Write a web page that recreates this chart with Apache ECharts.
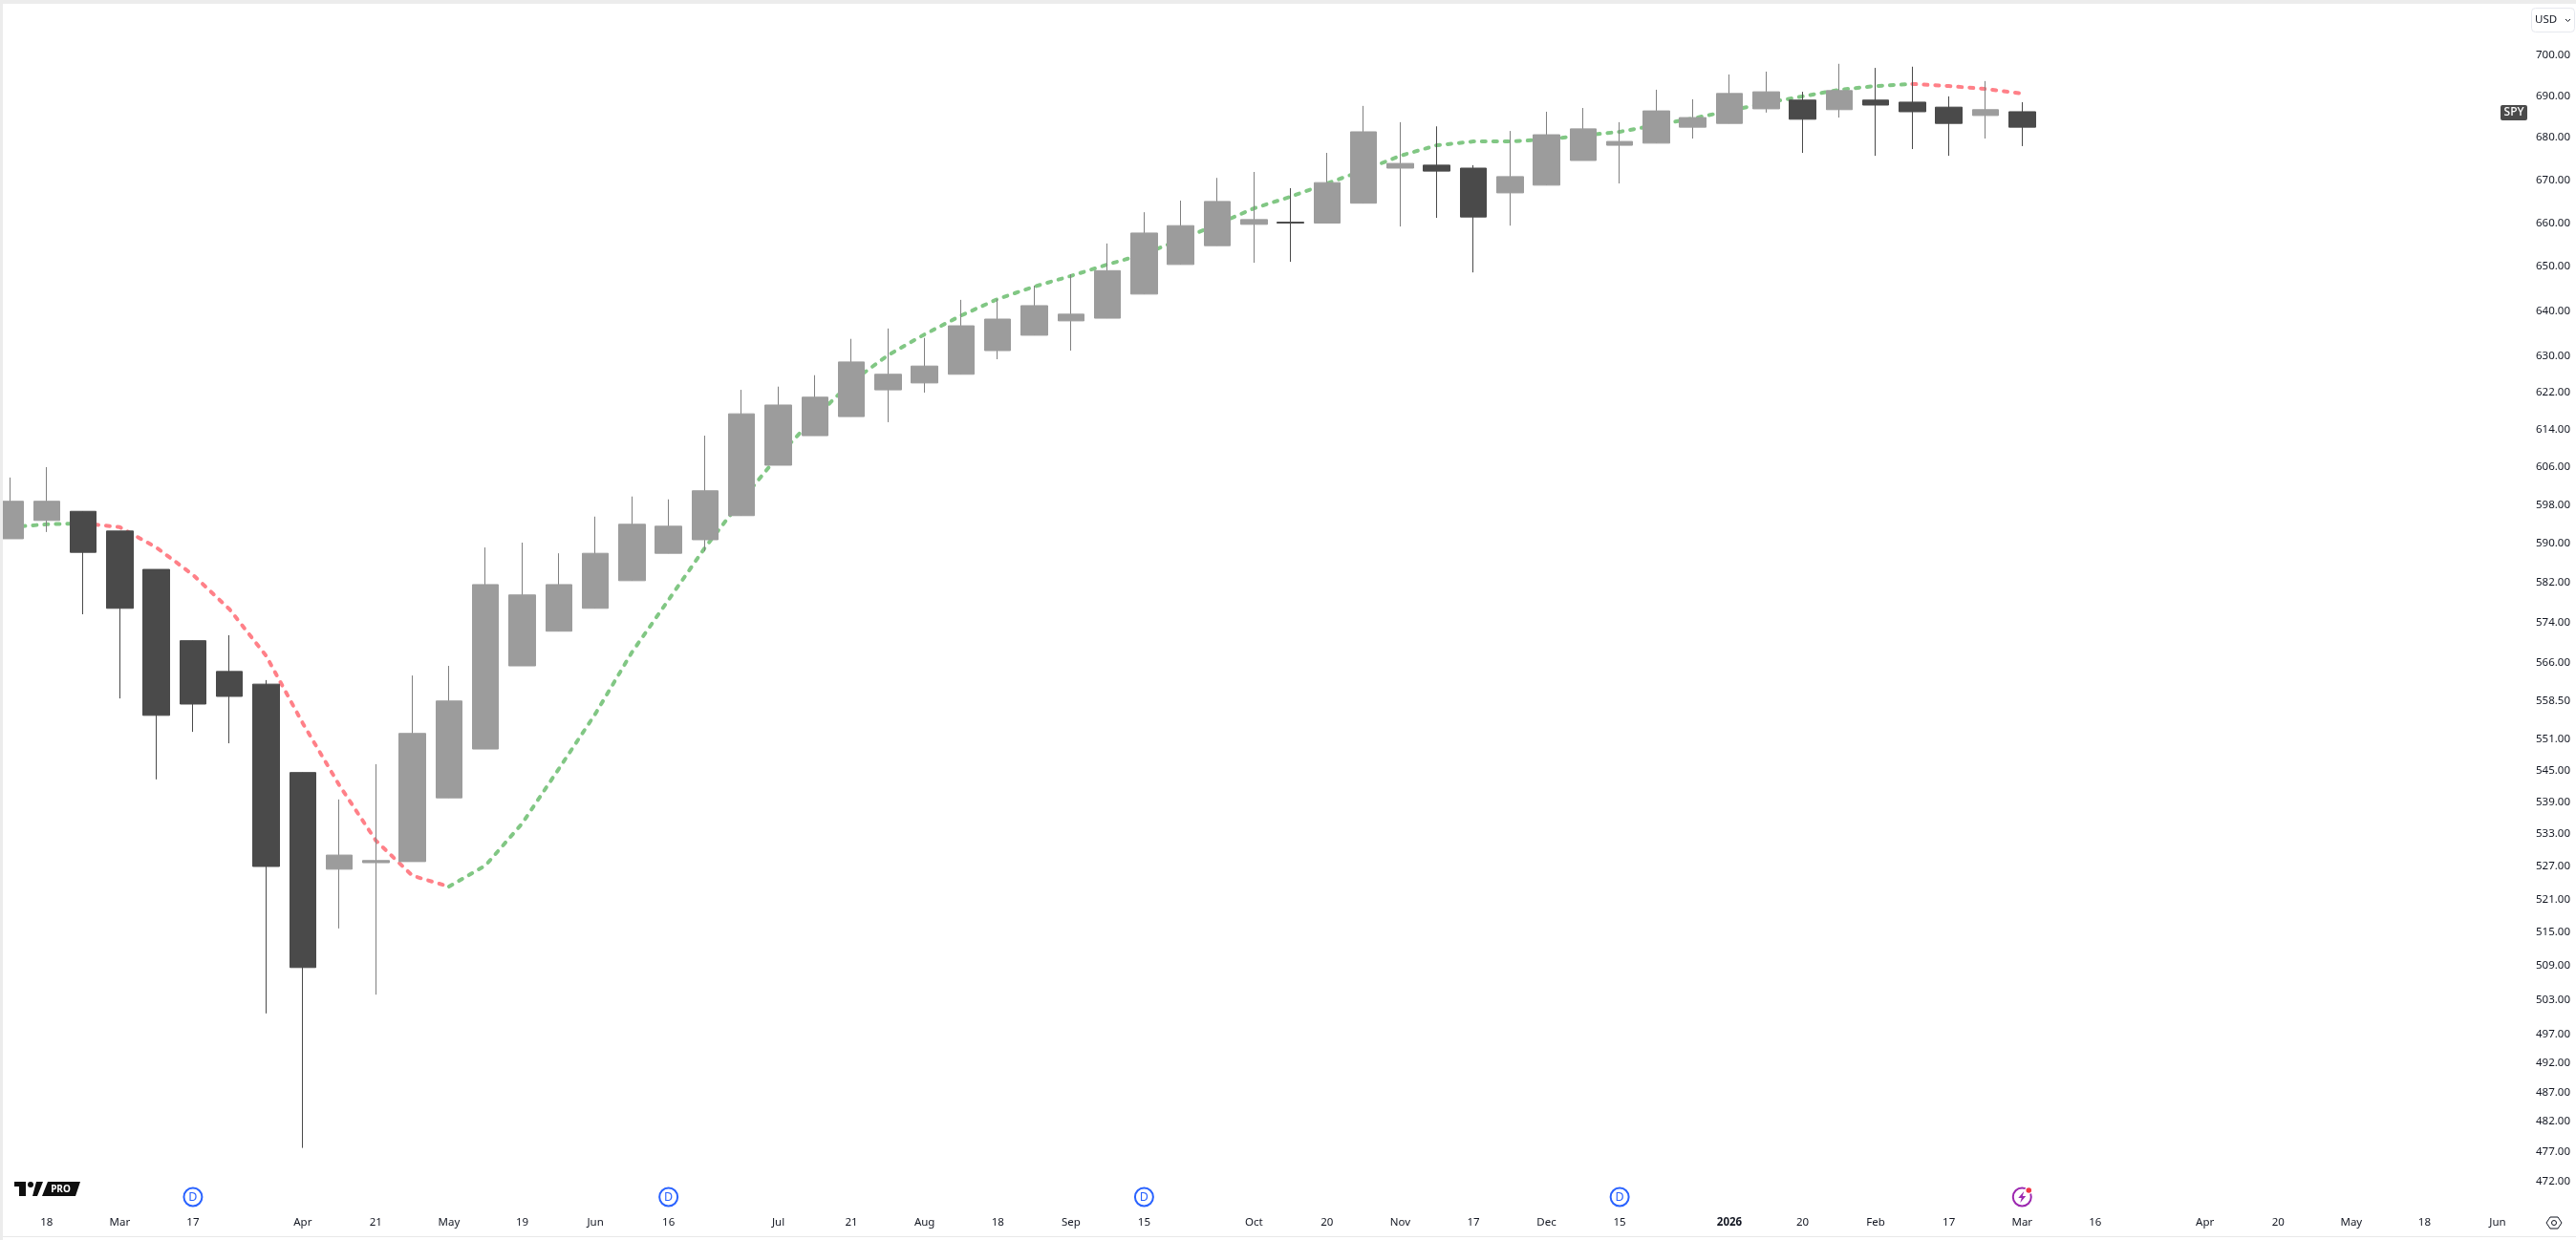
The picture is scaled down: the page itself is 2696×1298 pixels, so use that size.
<!DOCTYPE html>
<html>
<head>
<meta charset="utf-8">
<style>html,body{margin:0;padding:0;background:#fff}#c{width:2696px;height:1298px}</style>
<script src="https://cdn.jsdelivr.net/npm/echarts@6/dist/echarts.min.js"></script>
</head>
<body>
<div id="c"></div>
<script>
const weeks = ['2025-02-10','2025-02-18','2025-02-24','2025-03-03','2025-03-10','2025-03-17','2025-03-24','2025-03-31','2025-04-07','2025-04-14','2025-04-21','2025-04-28','2025-05-05','2025-05-12','2025-05-19','2025-05-27','2025-06-02','2025-06-09','2025-06-16','2025-06-23','2025-06-30','2025-07-07','2025-07-14','2025-07-21','2025-07-28','2025-08-04','2025-08-11','2025-08-18','2025-08-25','2025-09-02','2025-09-08','2025-09-15','2025-09-22','2025-09-29','2025-10-06','2025-10-13','2025-10-20','2025-10-27','2025-11-03','2025-11-10','2025-11-17','2025-11-24','2025-12-01','2025-12-08','2025-12-15','2025-12-22','2025-12-29','2026-01-05','2026-01-12','2026-01-20','2026-01-26','2026-02-02','2026-02-09','2026-02-17','2026-02-23','2026-03-02','2026-03-09','2026-03-16','2026-03-23','2026-03-30','2026-04-06','2026-04-13','2026-04-20','2026-04-27','2026-05-04','2026-05-11','2026-05-18','2026-05-26','2026-06-01'];
const opens  = [591.0,594.8,596.7,592.6,584.7,570.3,564.2,561.7,544.6,526.5,527.7,527.9,539.8,549.1,565.3,572.2,576.8,582.4,588.0,590.8,595.8,606.4,612.7,616.8,622.6,624.1,626.0,631.2,634.6,637.8,638.4,643.8,650.5,654.8,659.7,660.2,660.0,664.6,672.8,673.5,672.8,667.0,668.8,674.6,678.2,678.7,682.5,683.4,686.9,689.0,686.7,689.0,688.5,687.3,685.3,686.2];
const closes = [598.8,598.8,588.2,576.8,555.6,557.8,559.3,527.0,508.7,529.1,528.1,552.1,558.4,581.6,579.5,581.6,588.0,594.0,593.6,601.0,617.4,619.3,621.0,628.7,626.0,627.8,636.7,638.2,641.2,639.3,649.1,657.7,659.4,665.0,660.8,660.0,669.4,681.4,673.9,672.1,661.4,670.8,680.7,682.1,679.1,686.4,684.8,690.6,691.0,684.4,691.3,687.8,686.2,683.4,686.7,682.5];
const lows   = [591.0,592.4,575.6,558.9,543.3,552.4,550.2,500.6,477.6,515.7,503.9,527.9,539.8,549.1,565.3,572.2,576.8,582.4,588.0,588.4,595.8,606.4,612.7,616.8,615.6,622.0,626.0,629.3,634.6,631.2,638.4,643.8,650.5,654.8,650.9,651.1,660.0,664.6,659.2,661.2,648.7,659.4,668.8,674.6,669.2,678.7,679.8,683.4,686.0,676.4,684.8,675.7,677.3,675.7,679.8,678.0];
const highs  = [603.8,606.0,596.7,592.6,584.7,570.3,571.4,562.5,544.6,539.5,546.2,563.4,565.3,589.2,590.2,588.0,595.6,599.8,599.2,612.7,622.6,623.3,625.8,633.8,636.1,634.0,642.5,642.7,645.7,648.3,655.3,662.5,665.2,670.5,671.9,668.1,676.4,687.6,683.7,682.7,673.5,681.6,686.2,687.1,683.7,691.5,689.2,695.2,695.9,691.0,697.8,696.8,697.1,689.9,693.6,688.5];
const maValues = [593.4,594.0,594.2,593.4,589.2,583.6,576.6,567.3,554.1,542.2,531.8,525.3,523.3,527.2,535.0,545.3,555.9,568.0,578.5,589.2,599.0,608.4,616.6,624.3,630.2,634.8,639.0,642.7,645.5,647.9,650.5,652.9,656.2,659.7,663.4,666.1,669.2,672.3,675.7,678.2,679.1,679.1,679.6,680.5,681.4,683.0,684.6,686.4,688.3,689.9,691.5,692.4,692.9,692.4,691.7,690.6];
const timeLabels = {'2025-02-18':'18','2025-03-03':'Mar','2025-03-17':'17','2025-04-07':'Apr','2025-04-21':'21','2025-05-05':'May','2025-05-19':'19','2025-06-02':'Jun','2025-06-16':'16','2025-07-07':'Jul','2025-07-21':'21','2025-08-04':'Aug','2025-08-18':'18','2025-09-02':'Sep','2025-09-15':'15','2025-10-06':'Oct','2025-10-20':'20','2025-11-03':'Nov','2025-11-17':'17','2025-12-01':'Dec','2025-12-15':'15','2026-01-05':'2026','2026-01-20':'20','2026-02-02':'Feb','2026-02-17':'17','2026-03-02':'Mar','2026-03-16':'16','2026-04-06':'Apr','2026-04-20':'20','2026-05-04':'May','2026-05-18':'18','2026-06-01':'Jun'};
const priceTicks = [700,690,680,670,660,650,640,630,622,614,606,598,590,582,574,566,558.5,551,545,539,533,527,521,515,509,503,497,492,487,482,477,472];
const dividendWeeks = ['2025-03-17','2025-06-16','2025-09-15','2025-12-15'];
const earningsWeek = '2026-03-02';

const FONT = '"Noto Sans", sans-serif';
const TXT = '#131722';
const wicks = opens.map((o,i)=>[o,closes[i],lows[i],highs[i]]);
const bodies = opens.map((o,i)=>[o,closes[i],Math.min(o,closes[i]),Math.max(o,closes[i])]);
const rising = i => (i<maValues.length-1 && maValues[i+1]>=maValues[i]) || (i>0 && maValues[i]>=maValues[i-1]);
const falling = i => (i<maValues.length-1 && maValues[i+1]<maValues[i]) || (i>0 && maValues[i]<maValues[i-1]);
const maUp = maValues.map((v,i)=>rising(i)?v:null);
const maDown = maValues.map((v,i)=>falling(i)?v:null);

const lineSeries = (name,data,color)=>({
  type:'line',name,data,showSymbol:false,symbol:'none',connectNulls:false,silent:true,z:2,clip:false,
  lineStyle:{color,width:4,type:[4,8],cap:'round',join:'round'}
});

const chart = echarts.init(document.getElementById('c'),null,{renderer:'canvas',width:2696,height:1298});
chart.setOption({
  animation:false,
  backgroundColor:'#ffffff',
  grid:{left:10.5,top:6.5,width:2603.5,height:1255.85,containLabel:false},
  xAxis:{
    type:'category',data:weeks,boundaryGap:false,
    axisLine:{show:false},axisTick:{show:false},splitLine:{show:false},
    axisLabel:{
      margin:11,fontFamily:FONT,fontSize:11.5,color:TXT,hideOverlap:false,
      interval:(i,v)=>v in timeLabels,
      formatter:v=>{const t=timeLabels[v]||'';return t==='2026'?'{b|2026}':t;},
      rich:{b:{fontFamily:FONT,fontSize:11.5,fontWeight:'bold',color:TXT}}
    }
  },
  yAxis:{
    type:'log',logBase:10,min:468,max:712,position:'right',
    axisLine:{show:false},axisTick:{show:false},splitLine:{show:false},minorTick:{show:false},minorSplitLine:{show:false},
    axisLabel:{
      margin:40,fontFamily:FONT,fontSize:11.5,color:TXT,padding:[3,0,0,0],
      customValues:priceTicks,
      formatter:v=>Number(v).toFixed(2)
    }
  },
  series:[
    lineSeries('MA rising',maUp,'#81c784'),
    lineSeries('MA falling',maDown,'#ff8088'),
    {type:'candlestick',name:'SPY wicks',data:wicks,barWidth:1,clip:false,silent:true,z:3,
     itemStyle:{color:'#808080',color0:'#4a4a4a',borderColor:'#808080',borderColor0:'#4a4a4a',borderWidth:1}},
    {type:'candlestick',name:'SPY',data:bodies,barWidth:28,clip:false,silent:true,z:4,
     itemStyle:{color:'#9c9c9c',color0:'#4a4a4a',borderColor:'#9c9c9c',borderColor0:'#4a4a4a',borderWidth:1}}
  ]
});

const g = [];
const poly = (points,style)=>({type:'polygon',z:50,silent:true,shape:{points},style});
const text = (x,y,t,o)=>({type:'text',z:51,silent:true,x,y,style:Object.assign({text:t,fontFamily:FONT,fontSize:11.5,fill:TXT,align:'center',verticalAlign:'middle'},o||{})});
// frame
g.push({type:'rect',z:60,silent:true,shape:{x:0,y:0,width:2696,height:4},style:{fill:'#ececec'}});
g.push({type:'rect',z:60,silent:true,shape:{x:0,y:0,width:3,height:1298},style:{fill:'#ececec'}});
g.push({type:'rect',z:60,silent:true,shape:{x:3,y:1294,width:2693,height:1},style:{fill:'#e9e9e9'}});
// currency button
g.push({type:'rect',z:50,silent:true,shape:{x:2649.5,y:8.5,width:45,height:25,r:4},style:{fill:'#fff',stroke:'#e6e8ee',lineWidth:1}});
g.push(text(2653,21,'USD',{align:'left'}));
g.push({type:'polyline',z:51,silent:true,shape:{points:[[2685,20],[2687.5,22.5],[2690,20]]},style:{stroke:TXT,lineWidth:1,fill:null}});
// symbol tag
g.push({type:'rect',z:50,silent:true,shape:{x:2617,y:110,width:28,height:16,r:2},style:{fill:'#4a4a4a'}});
g.push(text(2631,118,'SPY',{fill:'#fff',fontSize:12,fontWeight:500}));
// logo
g.push(poly([[15,1237],[27,1237],[27,1252],[20,1252],[20,1242],[15,1242]],{fill:'#0f0f0f'}));
g.push({type:'circle',z:50,silent:true,shape:{cx:32,cy:1240,r:3},style:{fill:'#0f0f0f'}});
g.push(poly([[38,1237],[45,1237],[39,1252],[34,1252]],{fill:'#0f0f0f'}));
g.push(poly([[50,1237],[84,1237],[79,1252],[44,1252]],{fill:'#0f0f0f'}));
g.push(text(63.5,1244.8,'PRO',{fill:'#fff',fontWeight:'bold',fontSize:10}));
// settings icon
g.push(poly([[2665,1280],[2669,1274],[2677,1274],[2681,1280],[2677,1286],[2669,1286]],{fill:'none',stroke:TXT,lineWidth:1}));
g.push({type:'circle',z:50,silent:true,shape:{cx:2673,cy:1280,r:2.5},style:{fill:'none',stroke:TXT,lineWidth:1}});
// event markers
dividendWeeks.forEach(w=>{
  const x = chart.convertToPixel({xAxisIndex:0},w);
  g.push({type:'circle',z:50,silent:true,shape:{cx:x,cy:1253,r:9.5},style:{fill:'#fff',stroke:'#2962ff',lineWidth:2}});
  g.push(text(x,1253,'D',{fill:'#2962ff',fontSize:12.5}));
});
const ex = chart.convertToPixel({xAxisIndex:0},earningsWeek);
g.push({type:'circle',z:50,silent:true,shape:{cx:ex,cy:1253,r:9.5},style:{fill:'#fff',stroke:'#9c27b0',lineWidth:2}});
g.push(poly([[2,-6],[-4,1],[-0.5,1],[-2,6],[4,-1],[0.5,-1]].map(p=>[ex+p[0],1253+p[1]]),{fill:'#9c27b0'}));
g.push({type:'circle',z:51,silent:true,shape:{cx:ex+7,cy:1246,r:4},style:{fill:'#fff'}});
g.push({type:'circle',z:52,silent:true,shape:{cx:ex+7,cy:1246,r:2.8},style:{fill:'#f23645'}});
chart.setOption({graphic:{elements:g}});
</script>
</body>
</html>
